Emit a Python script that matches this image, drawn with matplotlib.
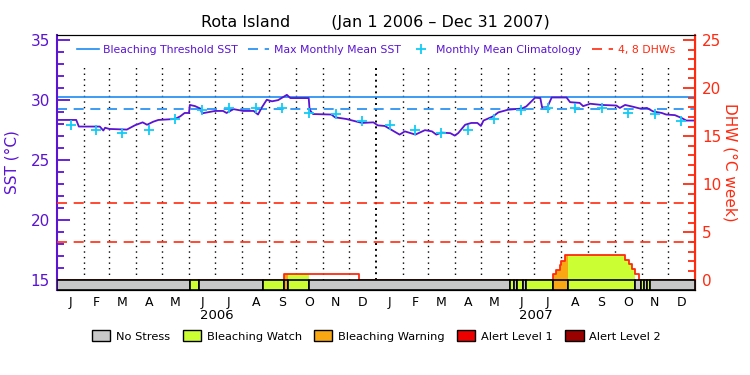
import matplotlib
matplotlib.use("Agg")
import matplotlib.pyplot as plt
import numpy as np
from matplotlib.lines import Line2D
from matplotlib.patches import Patch

# SST: day since Jan 1 2006, degC
sst_day = [0, 22, 25, 49, 53, 55, 60, 80, 89, 98, 103, 110, 116, 135, 141, 146,
           151, 152, 158, 164, 166, 181, 190, 194, 202, 213, 225, 230, 234, 240,
           246, 253, 263, 267, 288, 289, 293, 314, 318, 331, 349, 362, 367, 375,
           392, 398, 410, 421, 429, 434, 440, 450, 455, 459, 467, 474, 481, 485,
           488, 499, 505, 516, 532, 537, 547, 553, 555, 561, 566, 583, 587, 598,
           602, 610, 623, 640, 644, 650, 659, 667, 675, 682, 692, 697, 707, 715,
           720, 729]
sst_val = [28.35, 28.35, 27.8, 27.8, 27.47, 27.7, 27.6, 27.55, 27.9, 28.15, 27.95,
           28.2, 28.35, 28.43, 28.65, 28.93, 28.93, 29.6, 29.5, 29.3, 28.9, 29.1,
           29.1, 28.93, 29.25, 29.1, 29.1, 28.8, 29.35, 30.03, 29.9, 30.0, 30.44,
           30.17, 30.17, 29.2, 28.84, 28.8, 28.57, 28.43, 28.1, 28.15, 27.9, 27.85,
           27.13, 27.4, 27.13, 27.5, 27.4, 27.13, 27.3, 27.25, 27.05, 27.25, 27.95,
           28.1, 28.1, 27.85, 28.3, 28.65, 28.98, 29.2, 29.3, 29.48, 30.2, 30.17,
           29.4, 29.4, 30.22, 30.22, 29.83, 29.77, 29.5, 29.7, 29.6, 29.55, 29.35,
           29.6, 29.45, 29.3, 29.35, 29.06, 28.93, 28.8, 28.75, 28.5, 28.3, 28.3]

# monthly mean climatology (Jan..Dec)
clim = [27.9, 27.5, 27.3, 27.55, 28.45, 29.2, 29.33, 29.33, 29.33, 28.95, 28.87, 28.3]
mmm = 29.3
threshold = 30.3
dhw_levels = [4, 8]

# Degree heating weeks (step values, start day of each step)
dhw_day = [0, 260, 345, 568, 571, 575, 577, 581, 650, 654, 657.5, 661, 666, 730]
dhw_val = [0, 0.7, 0, 0.62, 1.07, 1.56, 2.0, 2.6, 2.1, 1.66, 1.14, 0.62, 0, 0]

# stress level bar: (start day, end day, level)
status = [(0, 152, 0), (152, 163, 1), (163, 236, 0), (236, 260, 1), (260, 264.6, 2),
          (264.6, 288.7, 1), (288.7, 518, 0), (518, 523, 1), (523, 526, 0),
          (526, 533, 1), (533, 537, 0), (537, 568, 1), (568, 585, 2), (585, 661, 1),
          (661, 668, 0), (668, 672, 1), (672, 675, 0), (675, 679, 1), (679, 730, 0)]
level_names = ["No Stress", "Bleaching Watch", "Bleaching Warning", "Alert Level 1", "Alert Level 2"]
level_colors = ["#c8c8c8", "#ccff33", "#f9a814", "#ee0000", "#990000"]

month_letters = ["J", "F", "M", "A", "M", "J", "J", "A", "S", "O", "N", "D"]

PURPLE = "#5a14d2"
BLUE = "#1a8cf0"
CYAN = "#11ccf5"
RED = "#ff2a10"

month_start = (np.arange("2006-01", "2008-02", dtype="datetime64[M]").astype("datetime64[D]")
               - np.datetime64("2006-01-01")).astype(int)
month_mid = (month_start[:-1] + month_start[1:]) / 2.0

fig = plt.figure(figsize=(7.5, 3.75), dpi=100)
ax = fig.add_axes([0.076, 0.2267, 0.8507, 0.68])
ax2 = ax.twinx()

ylo, yhi = 14.2, 35.42
ax.set_xlim(0, 730)
ax.set_ylim(ylo, yhi)
ax2.set_ylim((ylo - 15) * 1.25, (yhi - 15) * 1.25)

# month grid
grid_lines = [m for m in month_start[1:-1] if m != 365]
ax.vlines(grid_lines, 15, 32.8, colors="k", linestyles=(0, (1, 3)), lw=1)
ax.vlines([365], 15, 32.8, colors="k", linestyles=(0, (1, 2)), lw=1.4)

ax.axhline(threshold, color=BLUE, lw=1.2)
ax.axhline(mmm, color=BLUE, lw=1.2, ls=(0, (6, 4)))
for lv in dhw_levels:
    ax2.axhline(lv, color=RED, lw=1.2, ls=(0, (6, 4)))

ax.plot(sst_day, sst_val, color=PURPLE, lw=1.3, zorder=5)
ax.plot(month_mid, clim * 2, "+", color=CYAN, ms=7, mew=1.3, zorder=6)

# DHW fill coloured by stress level
dd = np.array(dhw_day, dtype=float)
dv = np.array(dhw_val)
for s, e, lev in status:
    if lev == 0:
        continue
    inside = dd[(dd > s) & (dd < e)]
    xs = np.concatenate([[s], inside, [e]])
    ys = dv[np.searchsorted(dd, xs, side="right") - 1]
    ax2.fill_between(xs, 0, ys, step="post", color=level_colors[lev], lw=0)
ax2.step(dhw_day, dhw_val, where="post", color=RED, lw=1.3)

# stress bar (drawn on the DHW axis so it sits on top)
bar_lo = (ylo - 15) * 1.25
for s, e, lev in status:
    ax2.broken_barh([(s, e - s)], (bar_lo, -bar_lo), facecolors=level_colors[lev],
                    edgecolors="k", lw=1.2, zorder=7)

# axes styling
ax.spines["left"].set_color(PURPLE)
ax.spines["left"].set_linewidth(1.5)
ax2.spines["right"].set_color(RED)
ax2.spines["right"].set_linewidth(1.5)
ax2.spines["left"].set_visible(False)

ax.set_yticks(np.arange(15, 36, 5))
ax.set_yticks(np.arange(15, 36, 1), minor=True)
ax.tick_params(axis="y", which="major", direction="in", length=9, width=1.3,
               colors=PURPLE, labelsize=11, pad=5)
ax.tick_params(axis="y", which="minor", direction="in", length=5, width=1.3, colors=PURPLE)
ax2.set_yticks(np.arange(0, 26, 5))
ax2.set_yticks(np.arange(0, 26, 1), minor=True)
ax2.tick_params(axis="y", which="major", direction="in", length=9, width=1.3,
                colors=RED, labelsize=11, pad=5)
ax2.tick_params(axis="y", which="minor", direction="in", length=5, width=1.3, colors=RED)

ax.set_xticks(month_mid)
ax.set_xticklabels(month_letters * 2, fontsize=9)
ax.tick_params(axis="x", length=0, pad=4)
ax.text(182.5, -0.1, "2006", transform=ax.get_xaxis_transform(), ha="center", va="center", fontsize=9.5)
ax.text(547.5, -0.1, "2007", transform=ax.get_xaxis_transform(), ha="center", va="center", fontsize=9.5)

ax.set_ylabel("SST (°C)", color=PURPLE, fontsize=11, labelpad=8)
ax2.set_ylabel("DHW (°C week)", color=RED, fontsize=11, rotation=270, labelpad=12)

fig.text(0.5, 0.94, "Rota Island        (Jan 1 2006 – Dec 31 2007)", ha="center", va="center", fontsize=11.5)

handles = [Line2D([], [], color=BLUE, lw=1.2),
           Line2D([], [], color=BLUE, lw=1.2, ls=(0, (6, 4))),
           Line2D([], [], color=CYAN, marker="+", ls="none", ms=7, mew=1.3),
           Line2D([], [], color=RED, lw=1.2, ls=(0, (6, 4)))]
ax.legend(handles, ["Bleaching Threshold SST", "Max Monthly Mean SST",
                    "Monthly Mean Climatology", "4, 8 DHWs"],
          ncol=4, loc="center", bbox_to_anchor=(0.5, 0.94), frameon=False, fontsize=7.8,
          handlelength=2.0, handletextpad=0.4, columnspacing=0.9,
          labelcolor=[PURPLE, PURPLE, PURPLE, RED])

bh = [Patch(facecolor=c, edgecolor="k", lw=1) for c in level_colors]
fig.legend(bh, level_names, ncol=5, loc="center", bbox_to_anchor=(0.502, 0.104),
           frameon=False, fontsize=8.2, handlelength=1.6, handleheight=1.1,
           handletextpad=0.5, columnspacing=1.1)

fig.savefig("out.png", dpi=100)
